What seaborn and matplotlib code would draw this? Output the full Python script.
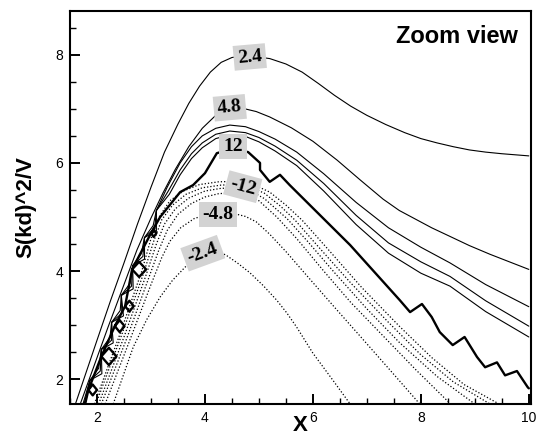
import matplotlib
matplotlib.use("Agg")
import matplotlib.pyplot as plt
from matplotlib.ticker import MultipleLocator
import seaborn as sns

# ---- positive levels (solid thin lines) ----
x_p24 = [1.60, 1.80, 2.00, 2.25, 2.50, 2.75, 3.00, 3.25, 3.50, 3.70, 3.90, 4.10, 4.30, 4.50, 4.70, 4.90,
         5.20, 5.50, 5.80, 6.10, 6.40, 6.70, 7.00, 7.35, 7.70, 8.00, 8.30, 8.60, 8.90, 9.20, 9.50, 9.75, 10.0]
y_p24 = [1.54, 2.13, 2.72, 3.45, 4.15, 4.87, 5.55, 6.20, 6.72, 7.10, 7.42, 7.68, 7.86, 7.95, 7.98, 7.97,
         7.93, 7.83, 7.68, 7.47, 7.25, 7.05, 6.88, 6.71, 6.56, 6.45, 6.37, 6.30, 6.24, 6.20, 6.17, 6.15, 6.13]

x_p48 = [1.69, 2.20, 2.74, 3.00, 3.22, 3.45, 3.70, 3.95, 4.20, 4.46, 4.70, 4.95, 5.20, 5.60, 6.00, 6.45,
         6.87, 7.30, 7.60, 7.90, 8.20, 8.54, 8.90, 9.28, 9.64, 10.0]
y_p48 = [1.54, 2.95, 4.39, 4.98, 5.44, 5.88, 6.30, 6.64, 6.88, 7.00, 7.01, 6.95, 6.85, 6.65, 6.40, 6.05,
         5.69, 5.33, 5.12, 4.96, 4.80, 4.64, 4.47, 4.31, 4.17, 4.03]

# higher positive levels zig-zag into fans along the singular line
x_p72 = [1.74, 1.87, 2.03, 2.08, 2.24, 2.27, 2.43, 2.45, 2.61, 2.66, 2.82, 2.88, 3.04, 3.10, 3.30,
         3.54, 3.75, 3.95, 4.20, 4.46, 4.75, 5.00, 5.30, 5.70, 6.20, 6.80, 7.40, 8.00, 8.54, 9.20, 10.0]
y_p72 = [1.54, 1.98, 2.20, 2.55, 2.77, 3.05, 3.27, 3.55, 3.77, 4.10, 4.32, 4.62, 4.84, 5.12, 5.55,
         6.00, 6.30, 6.50, 6.64, 6.70, 6.67, 6.58, 6.44, 6.20, 5.80, 5.27, 4.80, 4.44, 4.15, 3.75, 3.34]

x_p96 = [1.76, 1.87, 2.06, 2.08, 2.27, 2.27, 2.46, 2.45, 2.64, 2.66, 2.85, 2.88, 3.07, 3.10, 3.32,
         3.54, 3.75, 3.95, 4.20, 4.46, 4.75, 5.00, 5.30, 5.70, 6.20, 6.80, 7.40, 8.00, 8.54, 9.20, 10.0]
y_p96 = [1.54, 1.98, 2.15, 2.55, 2.72, 3.05, 3.22, 3.55, 3.72, 4.10, 4.27, 4.62, 4.79, 5.12, 5.48,
         5.87, 6.17, 6.37, 6.53, 6.59, 6.56, 6.47, 6.31, 6.05, 5.62, 5.03, 4.52, 4.17, 3.90, 3.45, 2.98]

x_p12 = [1.78, 1.87, 2.09, 2.08, 2.30, 2.27, 2.49, 2.45, 2.67, 2.66, 2.88, 2.88, 3.10, 3.10, 3.34,
         3.54, 3.75, 3.95, 4.20, 4.46, 4.75, 5.00, 5.30, 5.70, 6.20, 6.80, 7.40, 8.00, 8.54, 9.20, 10.0]
y_p12 = [1.54, 1.98, 2.10, 2.55, 2.67, 3.05, 3.17, 3.55, 3.67, 4.10, 4.22, 4.62, 4.74, 5.12, 5.42,
         5.78, 6.08, 6.28, 6.45, 6.52, 6.49, 6.39, 6.22, 5.95, 5.48, 4.86, 4.33, 3.96, 3.72, 3.25, 2.78]

# ---- negative levels (dotted lines) ----
x_m24 = [2.30, 2.67, 2.92, 3.17, 3.40, 3.63, 3.80, 3.95, 4.10, 4.25, 4.41, 4.60, 4.83, 5.08, 5.33,
         5.52, 5.70, 6.00, 6.37, 6.69]
y_m24 = [1.54, 2.59, 3.10, 3.52, 3.83, 4.07, 4.22, 4.32, 4.39, 4.37, 4.28, 4.15, 3.97, 3.73, 3.46,
         3.22, 2.96, 2.48, 1.98, 1.54]

x_m48 = [2.15, 2.60, 3.00, 3.20, 3.35, 3.55, 3.80, 4.05, 4.30, 4.55, 4.75, 4.95, 5.20, 5.50, 5.90,
         6.40, 6.87, 7.40, 7.98]
y_m48 = [1.54, 2.70, 3.75, 4.25, 4.55, 4.80, 4.97, 5.05, 5.08, 5.06, 5.01, 4.91, 4.68, 4.36, 3.90,
         3.33, 2.80, 2.20, 1.54]

x_m72 = [2.08, 2.55, 2.95, 3.15, 3.30, 3.50, 3.75, 4.00, 4.25, 4.50, 4.75, 5.00, 5.33, 5.70, 6.20,
         6.70, 7.30, 7.90, 8.55]
y_m72 = [1.54, 2.75, 3.85, 4.40, 4.75, 5.05, 5.25, 5.37, 5.43, 5.45, 5.41, 5.30, 5.00, 4.60, 4.00,
         3.42, 2.80, 2.18, 1.54]

x_m96 = [2.03, 2.50, 2.90, 3.10, 3.25, 3.45, 3.70, 4.00, 4.30, 4.60, 4.85, 5.10, 5.52, 5.90, 6.40,
         7.00, 7.60, 8.30, 9.00]
y_m96 = [1.54, 2.78, 3.90, 4.50, 4.87, 5.15, 5.35, 5.48, 5.53, 5.54, 5.48, 5.34, 4.97, 4.55, 3.97,
         3.30, 2.68, 2.05, 1.54]

x_m12 = [1.98, 2.45, 2.86, 3.05, 3.20, 3.40, 3.65, 3.95, 4.30, 4.60, 4.85, 5.10, 5.40, 5.67, 6.10,
         6.70, 7.40, 8.00, 8.60, 9.28]
y_m12 = [1.54, 2.80, 3.95, 4.55, 4.95, 5.22, 5.42, 5.54, 5.59, 5.60, 5.55, 5.44, 5.20, 4.94, 4.45,
         3.78, 3.05, 2.45, 1.95, 1.54]

x_m144 = [1.95, 2.42, 2.83, 3.00, 3.15, 3.35, 3.60, 3.90, 4.25, 4.60, 4.90, 5.20, 5.50, 5.80, 6.30,
          6.90, 7.60, 8.20, 8.80, 9.45]
y_m144 = [1.54, 2.82, 4.00, 4.60, 5.00, 5.30, 5.48, 5.60, 5.65, 5.66, 5.60, 5.46, 5.22, 4.94, 4.38,
          3.70, 2.98, 2.40, 1.90, 1.54]

# ---- singular line (thick) ----
x_sing = [1.78, 1.84, 1.92, 2.00, 1.92, 1.84, 2.08, 2.22, 2.36, 2.22, 2.08,
          2.33, 2.42, 2.51, 2.42, 2.33, 2.52, 2.60, 2.68, 2.60, 2.52,
          2.65, 2.78, 2.91, 2.78, 2.65, 3.00, 3.05, 3.10, 3.05, 3.00,
          3.17, 3.54, 3.78, 4.00, 4.22, 4.50, 4.80, 5.02, 5.02, 5.20, 5.39, 5.57,
          6.69, 7.61, 7.80, 8.02, 8.20, 8.35, 8.59, 8.81, 9.04, 9.19, 9.41, 9.56, 9.78, 9.98, 10.0]
y_sing = [1.54, 1.80, 1.70, 1.80, 1.90, 1.80, 2.42, 2.26, 2.42, 2.58, 2.42,
          2.98, 2.87, 2.98, 3.09, 2.98, 3.35, 3.25, 3.35, 3.45, 3.35,
          4.03, 3.89, 4.03, 4.17, 4.03, 4.70, 4.63, 4.70, 4.77, 4.70,
          5.00, 5.46, 5.59, 5.81, 6.18, 6.26, 6.20, 6.00, 5.87, 5.65, 5.78, 5.59,
          4.48, 3.46, 3.24, 3.39, 3.15, 2.87, 2.63, 2.78, 2.41, 2.22, 2.31, 2.07, 2.15, 1.85, 1.83]

# contour labels: text, x, y, rotation
lab_text = ["2.4", "4.8", "12", "-12", "-4.8", "-2.4"]
lab_x = [4.83, 4.46, 4.52, 4.70, 4.24, 3.96]
lab_y = [7.96, 7.02, 6.30, 5.56, 5.04, 4.33]
lab_rot = [5, 5, 0, -15, 0, 20]

x_ticks = [2, 4, 6, 8, 10]
y_ticks = [2, 4, 6, 8]

sns.set_theme(style="white")
plt.rcParams["font.family"] = ["Liberation Sans", "DejaVu Sans"]
plt.rcParams.update({"text.color": "black", "axes.labelcolor": "black",
                     "xtick.color": "black", "ytick.color": "black"})

fig = plt.figure(figsize=(5.37, 4.37), dpi=100)
ax = fig.add_axes([0.1304, 0.0755, 0.8584, 0.8993])

solid = [(x_p24, y_p24), (x_p48, y_p48), (x_p72, y_p72), (x_p96, y_p96), (x_p12, y_p12)]
dotted = [(x_m24, y_m24), (x_m48, y_m48), (x_m72, y_m72), (x_m96, y_m96), (x_m12, y_m12), (x_m144, y_m144)]

for xs, ys in solid:
    sns.lineplot(x=xs, y=ys, sort=False, estimator=None, color="black", lw=0.8, ax=ax)
for xs, ys in dotted:
    sns.lineplot(x=xs, y=ys, sort=False, estimator=None, color="black", lw=0.9,
                 linestyle=(0, (1.0, 1.6)), ax=ax)
sns.lineplot(x=x_sing, y=y_sing, sort=False, estimator=None, color="black", lw=1.7, ax=ax)

for t, x, y, r in zip(lab_text, lab_x, lab_y, lab_rot):
    ax.text(x, y, t, ha="center", va="center", rotation=r, rotation_mode="anchor",
            fontsize=14, fontweight="bold", family="Liberation Serif", color="black", zorder=6,
            bbox=dict(boxstyle="square,pad=0.2", fc="#d3d3d3", ec="none"))

ax.set_xlim(1.5, 10.04)
ax.set_ylim(1.54, 8.81)
ax.set_xticks(x_ticks)
ax.set_yticks(y_ticks)
ax.set_xticklabels([str(v) for v in x_ticks])
ax.set_yticklabels([str(v) for v in y_ticks])
ax.xaxis.set_minor_locator(MultipleLocator(0.5))
ax.yaxis.set_minor_locator(MultipleLocator(0.5))
ax.tick_params(which="major", direction="in", length=7, width=1.4, labelsize=10,
               colors="black", pad=5, bottom=True, left=True, top=False, right=False)
ax.tick_params(which="minor", direction="in", length=4, width=1.0,
               bottom=True, left=True, top=False, right=False)
for s in ax.spines.values():
    s.set_color("black")
    s.set_linewidth(1.5)

ax.set_xlabel("X", fontsize=16, fontweight="bold")
ax.xaxis.set_label_coords(0.5, -0.028)
ax.set_ylabel("S(kd)^2/V", fontsize=16, fontweight="bold")
ax.yaxis.set_label_coords(-0.072, 0.5)
ax.text(0.972, 0.965, "Zoom view", transform=ax.transAxes, ha="right", va="top",
        fontsize=17, fontweight="bold")

fig.savefig("out.png", dpi=100)
